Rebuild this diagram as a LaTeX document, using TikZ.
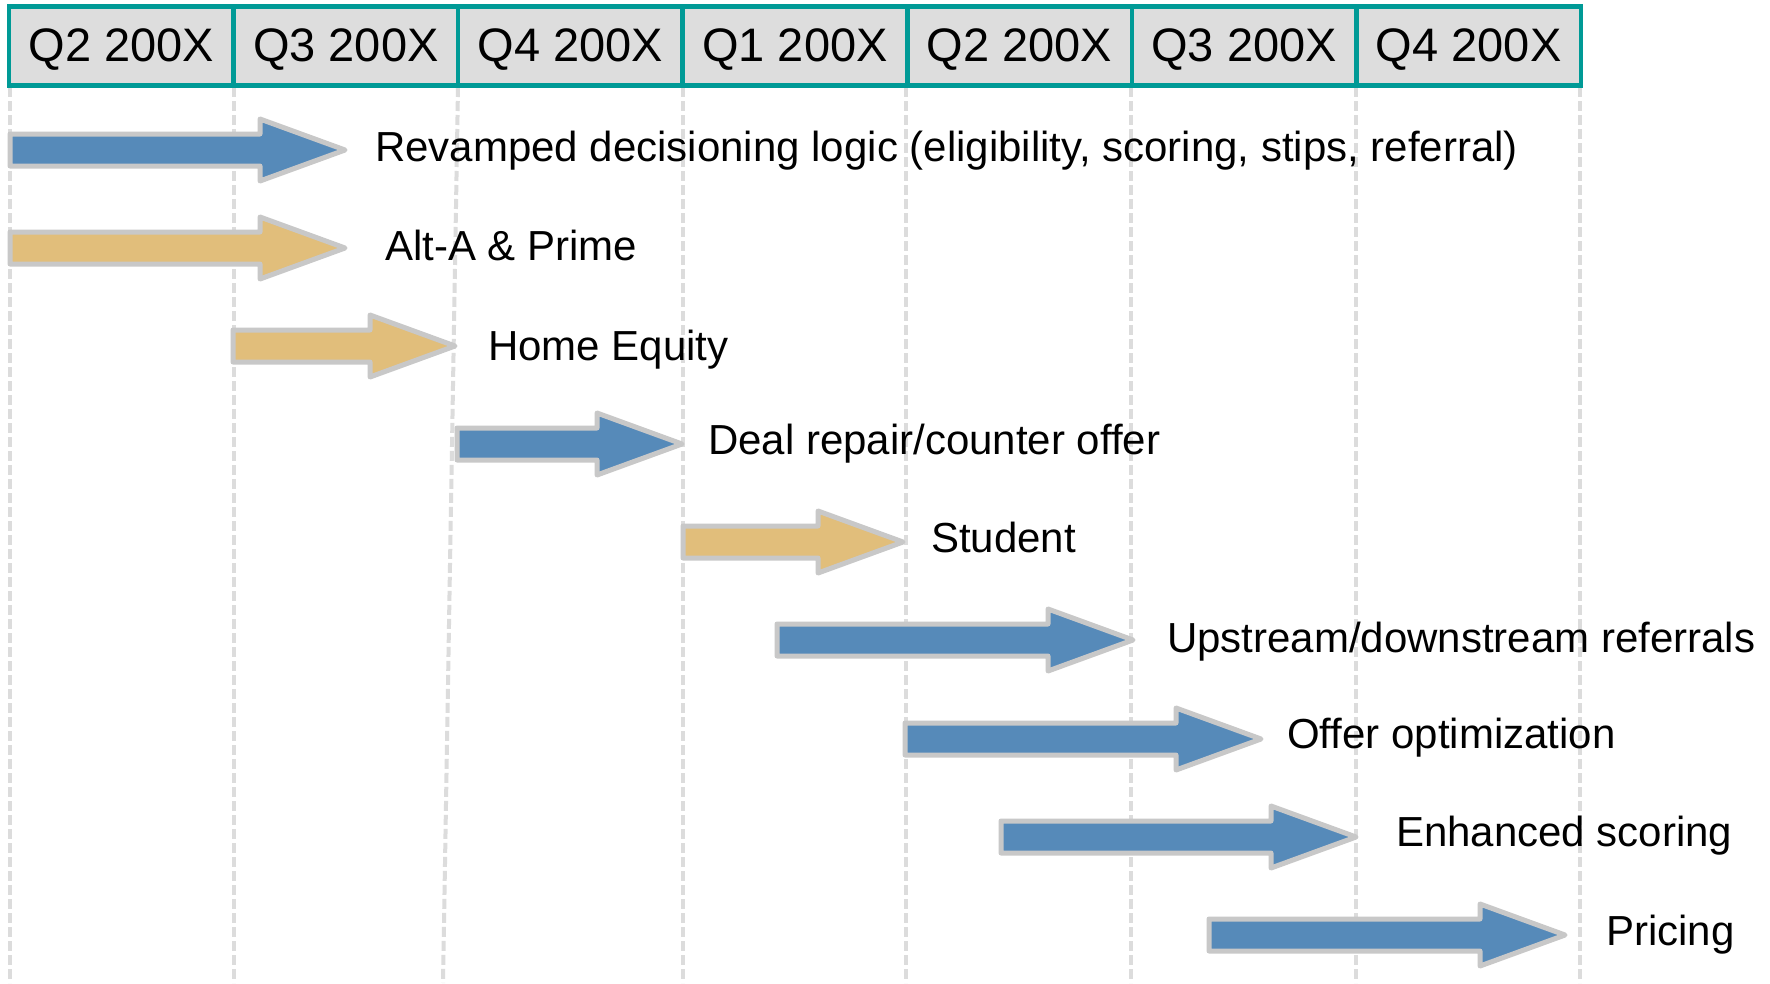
\documentclass[tikz,border=0pt]{standalone}
\usepackage{fontspec}
\setmainfont{Liberation Sans}
\definecolor{hdrteal}{RGB}{0,154,150}
\definecolor{hdrgray}{RGB}{221,221,221}
\definecolor{gridgray}{RGB}{220,220,220}
\definecolor{barblue}{RGB}{86,138,185}
\definecolor{bartan}{RGB}{225,190,123}
\definecolor{baredge}{RGB}{200,200,200}
\tikzset{
  hdr/.style={draw=hdrteal, line width=4.5pt, fill=hdrgray, minimum width=224.57pt,
    minimum height=79pt, inner sep=0pt, text height=30pt, text depth=0pt,
    font=\fontsize{47}{47}\selectfont},
  gridline/.style={draw=gridgray, line width=4pt, dash pattern=on 10pt off 4pt},
  barshape/.style={draw=baredge, line width=5pt, line join=round},
  bluebar/.style={barshape, fill=barblue},
  tanbar/.style={barshape, fill=bartan},
  lbl/.style={anchor=base west, inner sep=0pt, font=\fontsize{42}{42}\selectfont}
}
% one timeline bar: #1 name, #2 style, #3 start x, #4 tip x, #5 centre y
\newcommand\timebar[5]{%
  \draw[#2] (#3,#5-16) -- (#4-85,#5-16) -- (#4-85,#5-31) -- (#4,#5)
    -- (#4-85,#5+31) -- (#4-85,#5+16) -- (#3,#5+16) -- cycle;
  \coordinate (#1) at (#4,#5);}
\begin{document}
\begin{tikzpicture}[x=1pt, y=-1pt]
\useasboundingbox[fill=white] (0,0) rectangle (1770,983);

% quarter boundaries
\draw[gridline] (10,87) -- (10,983);
\draw[gridline] (234,87) -- (234,983);
\draw[gridline] (458,87) -- (443,983);
\draw[gridline] (683,87) -- (683,983);
\draw[gridline] (906,87) -- (906,983);
\draw[gridline] (1131,87) -- (1131,983);
\draw[gridline] (1356,87) -- (1356,983);
\draw[gridline] (1580,87) -- (1580,983);

% header row
\node[hdr] (q1) at (121.3,46) {Q2 200X};
\node[hdr] (q2) at (345.9,46) {Q3 200X};
\node[hdr] (q3) at (570.4,46) {Q4 200X};
\node[hdr] (q4) at (795.0,46) {Q1 200X};
\node[hdr] (q5) at (1019.6,46) {Q2 200X};
\node[hdr] (q6) at (1244.1,46) {Q3 200X};
\node[hdr] (q7) at (1468.7,46) {Q4 200X};

% initiatives
\timebar{b1}{bluebar}{10}{345}{150}
\timebar{b2}{tanbar}{10}{345}{248}
\timebar{b3}{tanbar}{233}{455}{346}
\timebar{b4}{bluebar}{457}{682}{444}
\timebar{b5}{tanbar}{683}{903}{542}
\timebar{b6}{bluebar}{777}{1133}{640}
\timebar{b7}{bluebar}{905}{1261}{739}
\timebar{b8}{bluebar}{1001}{1356}{837}
\timebar{b9}{bluebar}{1209}{1565}{935}

\node[lbl] (t1) at (375,161) {Revamped decisioning logic (eligibility, scoring, stips, referral)};
\node[lbl] (t2) at (385,260) {Alt-A \& Prime};
\node[lbl] (t3) at (488,360) {Home Equity};
\node[lbl] (t4) at (708,454) {Deal repair/counter offer};
\node[lbl] (t5) at (931,552) {Student};
\node[lbl] (t6) at (1167,652) {Upstream/downstream referrals};
\node[lbl] (t7) at (1287,748) {Offer optimization};
\node[lbl] (t8) at (1396,846) {Enhanced scoring};
\node[lbl] (t9) at (1606,945) {Pricing};
\end{tikzpicture}
\end{document}
